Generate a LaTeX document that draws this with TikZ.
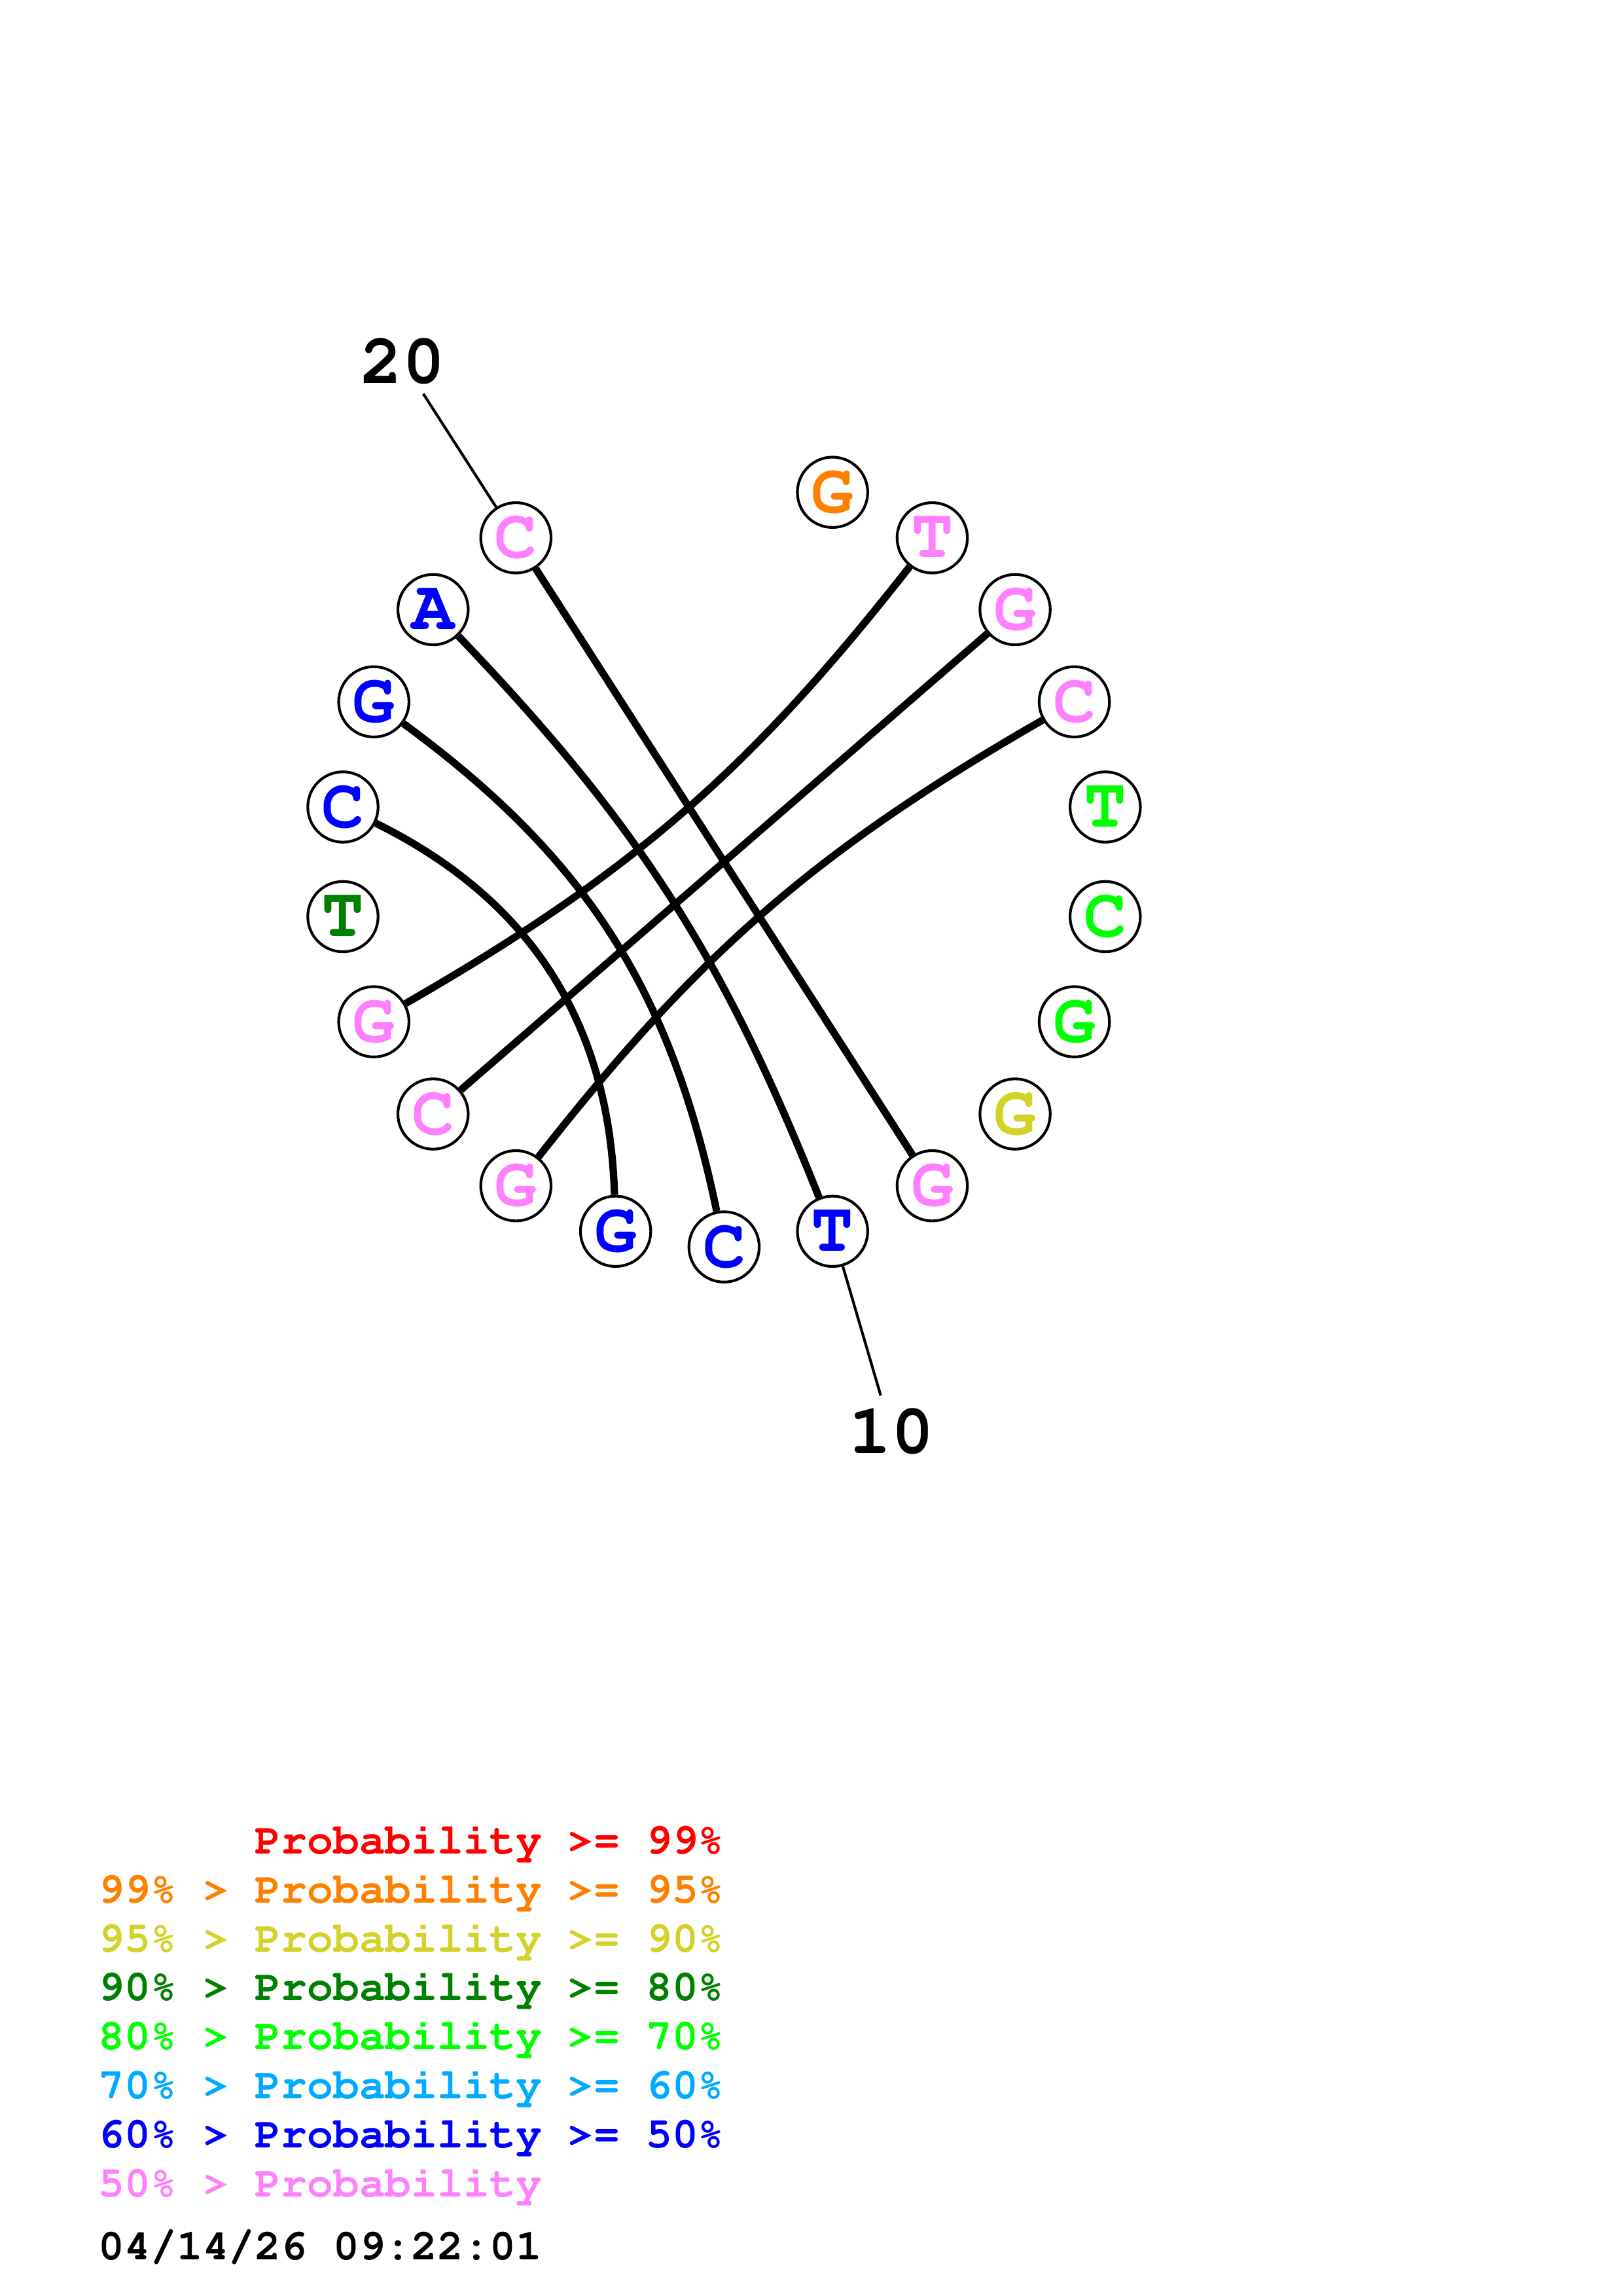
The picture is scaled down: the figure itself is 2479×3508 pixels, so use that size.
\documentclass[tikz,border=0pt]{standalone}
\usepackage[T1,TU]{fontenc}

\definecolor{pred}{RGB}{255,0,0}
\definecolor{porange}{RGB}{255,128,0}
\definecolor{pyellow}{RGB}{210,210,40}
\definecolor{pdkgreen}{RGB}{0,128,0}
\definecolor{pgreen}{RGB}{0,255,0}
\definecolor{plblue}{RGB}{0,170,255}
\definecolor{pblue}{RGB}{0,0,255}
\definecolor{ppink}{RGB}{255,128,255}

\newcommand{\basefont}{\fontencoding{T1}\fontfamily{pcr}\fontseries{b}\fontshape{n}\fontsize{26}{31}\selectfont}
\newcommand{\numfont}{\fontencoding{T1}\fontfamily{pcr}\fontseries{b}\fontshape{n}\fontsize{26}{31}\selectfont}
\newcommand{\legendfont}{\fontencoding{T1}\fontfamily{pcr}\fontseries{b}\fontshape{n}\fontsize{16}{19}\selectfont}

\tikzset{
  base/.style={circle, draw, line width=1pt, fill=white, minimum size=9.1mm, inner sep=0pt, font=\basefont},
  pair/.style={line width=2.7pt},
  leader/.style={line width=1pt},
  legend/.style={anchor=base west, inner sep=0pt, font=\legendfont},
}

\begin{document}
\begin{tikzpicture}[x=0.084711mm, y=0.084711mm]
\useasboundingbox (0,0) rectangle (2479,-3508);

\coordinate (ctr) at (1106.4,-1316.7);

% bases around the circle
\foreach \i/\b/\c in {1/G/porange, 2/T/ppink, 3/G/ppink, 4/C/ppink, 5/T/pgreen,
    6/C/pgreen, 7/G/pgreen, 8/G/pyellow, 9/G/ppink, 10/T/pblue,
    11/C/pblue, 12/G/pblue, 13/G/ppink, 14/C/ppink, 15/G/ppink,
    16/T/pdkgreen, 17/C/pblue, 18/G/pblue, 19/A/pblue, 20/C/ppink}{
  \pgfmathsetmacro{\a}{73.6364-(\i-1)*16.3636}
  \node[base, text=\c] (n\i) at ([shift={(\a:588.4)}]ctr) {\b};
}

% pairs
\draw[pair] (n20) -- (n9);
\draw[pair] (n19) to[bend left=11] (n10);
\draw[pair] (n18) to[bend left=21] (n11);
\draw[pair] (n17) to[bend left=31] (n12);
\draw[pair] (n2) to[bend left=11] (n15);
\draw[pair] (n3) -- (n14);
\draw[pair] (n13) to[bend left=11] (n4);

% numbering
\coordinate (e20) at ([shift={(122.73:850)}]ctr);
\coordinate (e10) at ([shift={(-73.64:850)}]ctr);
\draw[leader] (n20) -- (e20);
\draw[leader] (n10) -- (e10);
\node[font=\numfont] (l20) at ([shift={(122.73:908)}]ctr) {20};
\node[font=\numfont] (l10) at ([shift={(-73.64:908)}]ctr) {10};

% legend
\node[legend, text=pred] (r1) at (150,-2832.5) {\hphantom{99\% > }Probability >= 99\%};
\node[legend, text=porange] (r2) at (150,-2907.3) {99\% > Probability >= 95\%};
\node[legend, text=pyellow] (r3) at (150,-2982.1) {95\% > Probability >= 90\%};
\node[legend, text=pdkgreen] (r4) at (150,-3056.9) {90\% > Probability >= 80\%};
\node[legend, text=pgreen] (r5) at (150,-3131.7) {80\% > Probability >= 70\%};
\node[legend, text=plblue] (r6) at (150,-3206.5) {70\% > Probability >= 60\%};
\node[legend, text=pblue] (r7) at (150,-3281.3) {60\% > Probability >= 50\%};
\node[legend, text=ppink] (r8) at (150,-3356.1) {50\% > Probability};
\node[legend] (date) at (150,-3452.7) {04/14/26 09:22:01};

\end{tikzpicture}
\end{document}
